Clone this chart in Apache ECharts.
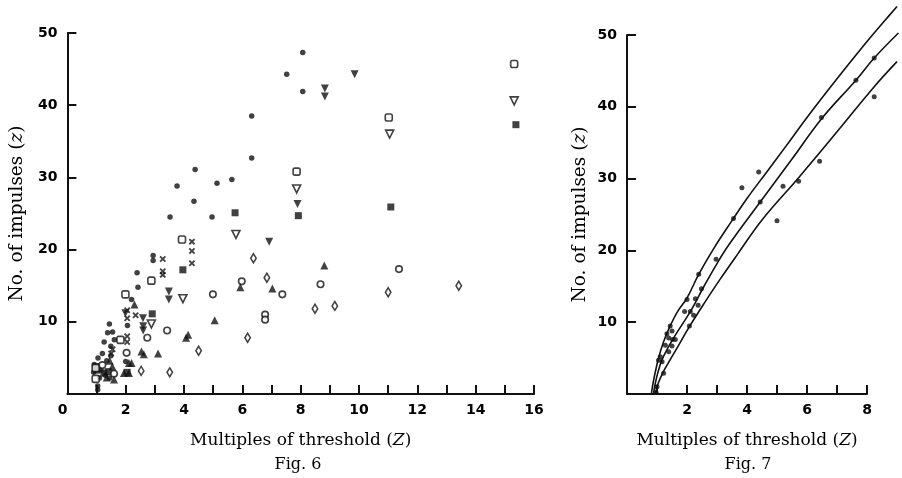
<!DOCTYPE html>
<html><head><meta charset="utf-8">
<script src="https://cdn.jsdelivr.net/npm/echarts@6/dist/echarts.min.js"></script>
<style>html,body{margin:0;padding:0;background:#fff}#c{width:902px;height:478px}</style>
</head><body><div id="c"></div>
<script>
// ---- Fig. 6 data (x = multiples of threshold, y = number of impulses) ----
const filledCircle = [[8.07,47.3],[7.52,44.3],[8.07,41.9],[6.32,38.5],[6.32,32.7],[4.38,31.1],[3.76,28.8],[5.13,29.2],[5.64,29.7],[4.34,26.7],[3.52,24.5],[4.96,24.5],[2.94,19.2],[2.94,18.5],[2.39,16.8],[2.42,14.8],[2.2,13.1],[1.44,9.7],[2.06,9.5],[1.38,8.5],[1.55,8.6],[1.61,7.5],[1.26,7.2],[1.49,6.6],[1.49,5.3],[1.2,5.6],[1.05,5.0],[1.35,4.6],[2.0,4.5],[0.92,4.1],[1.15,3.3],[0.9,3.0],[1.3,2.6],[1.1,2.2],[1.45,2.2],[1.04,1.1],[1.04,0.6]];
const filledSquare = [[15.38,37.3],[11.09,25.9],[7.92,24.7],[5.75,25.1],[3.96,17.2],[2.91,11.1],[0.98,3.8],[1.25,2.9],[1.4,3.1],[2.05,3.0],[1.0,3.3]];
const openSquare = [[15.32,45.7],[11.02,38.3],[7.86,30.8],[3.93,21.4],[2.88,15.7],[1.99,13.8],[1.82,7.5],[0.97,3.6],[0.97,2.1]];
const openDownTri = [[15.32,40.6],[11.05,36.0],[7.86,28.4],[5.78,22.1],[3.96,13.2],[2.88,9.7]];
const filledDownTri = [[9.85,44.3],[8.83,42.3],[8.83,41.2],[7.89,26.3],[6.92,21.1],[3.48,14.2],[3.48,13.1],[2.59,10.5],[2.6,9.4],[2.6,8.8],[1.99,11.2]];
const crosses = [[4.27,21.1],[4.27,19.8],[4.27,18.1],[3.27,18.7],[3.27,17.0],[3.27,16.5],[2.34,10.9],[2.05,11.6],[2.05,10.5],[2.05,8.0],[2.05,7.2],[1.55,6.2],[1.5,5.6]];
const openCircle = [[11.37,17.3],[8.68,15.2],[5.98,15.6],[7.37,13.8],[4.99,13.8],[6.78,11.0],[6.78,10.3],[3.42,8.8],[2.74,7.8],[2.03,5.7],[1.6,2.8],[1.2,4.0]];
const openDiamond = [[13.42,15.0],[11.0,14.1],[9.17,12.2],[8.49,11.8],[6.38,18.8],[6.84,16.1],[6.18,7.8],[4.5,6.0],[3.51,3.0],[2.53,3.2]];
const filledUpTri = [[8.81,17.8],[5.93,14.8],[7.03,14.6],[5.05,10.2],[4.14,8.2],[4.07,7.8],[3.11,5.6],[2.54,5.9],[2.62,5.5],[2.11,4.3],[2.2,4.3],[1.94,2.9],[2.11,2.9],[1.54,3.8],[1.6,2.0],[2.3,12.4],[1.45,4.6],[1.35,2.3]];

// ---- Fig. 7 data ----
const fig7Points = [[3.83,28.8],[4.39,31.0],[3.55,24.5],[4.44,26.8],[5.2,29.0],[5.72,29.7],[5.0,24.2],[6.42,32.5],[6.48,38.6],[7.63,43.8],[8.24,46.9],[8.24,41.5],[2.97,18.8],[2.39,16.7],[2.48,14.7],[2.0,13.2],[2.28,13.3],[1.92,11.5],[2.11,11.5],[2.22,11.0],[2.37,12.4],[2.08,9.5],[1.44,9.5],[1.5,8.8],[1.33,8.4],[1.39,7.8],[1.52,7.6],[1.61,7.6],[1.28,6.8],[1.5,6.7],[1.39,5.9],[1.11,5.2],[1.05,4.7],[1.17,4.5],[1.22,2.9],[1.0,1.0],[0.97,0.2]];
const curveUpper = [[0.81,0],[0.9,2.2],[1.05,5.0],[1.22,7.3],[1.44,9.5],[1.7,11.6],[2.0,13.4],[2.39,16.7],[2.89,20.3],[3.5,24.2],[4.0,27.3],[4.66,31.0],[5.3,34.6],[6.0,38.6],[7.0,44.0],[8.0,49.2],[8.61,52.2],[9.0,54.1]];
const curveMiddle = [[0.88,0],[0.97,2.0],[1.1,4.0],[1.22,5.3],[1.55,7.8],[2.11,11.5],[2.55,14.9],[2.97,18.0],[3.39,20.8],[4.44,26.8],[5.5,32.8],[6.48,38.4],[7.63,43.8],[8.24,46.9],[9.05,50.4]];
const curveLower = [[0.94,0],[1.05,1.6],[1.2,3.0],[1.33,4.0],[1.72,6.8],[2.08,9.4],[2.61,12.9],[3.1,16.0],[3.7,19.6],[4.5,24.3],[5.72,30.2],[7.0,36.6],[8.24,42.9],[9.0,46.4]];

const yTicks = [10,20,30,40,50];
const fig6XLabels = [0,2,4,6,8,10,12,14,16];
const fig7XLabels = [2,4,6,8];

const INK = '#111';
const labelFont = {color:'#000', fontFamily:'DejaVu Sans', fontWeight:'bold', fontSize:14};
function nameFont(sz){ return {color:'#000', fontFamily:'DejaVu Serif', fontSize:sz,
  rich:{i:{fontFamily:'DejaVu Serif', fontStyle:'italic', fontSize:sz, color:'#000'}}}; }
const axLine = {show:true, lineStyle:{color:INK, width:2}};
const axTick = {show:true, inside:true, length:9, lineStyle:{color:INK, width:2}};

function xAxisCfg(gi, max, labels, alignMin){
  return {type:'value', gridIndex:gi, min:0, max:max, interval:1,
    axisLine:axLine, axisTick:axTick, splitLine:{show:false},
    axisLabel:Object.assign({margin:9, formatter:v=>labels.includes(v)?String(v):'', showMinLabel:true, showMaxLabel:true, alignMinLabel: alignMin}, labelFont),
    name:'Multiples of threshold ({i|Z})', nameLocation:'middle', nameGap:38, nameTextStyle:nameFont(17)};
}
function yAxisCfg(gi, gap){
  return {type:'value', gridIndex:gi, min:0, max:50, interval:10,
    axisLine:axLine, axisTick:axTick, splitLine:{show:false},
    axisLabel:Object.assign({margin:10, formatter:v=>yTicks.includes(v)?String(v):''}, labelFont),
    name:'No. of impulses ({i|z})', nameLocation:'middle', nameGap:gap, nameTextStyle:nameFont(18.5)};
}
// hidden axes with the same scale as Fig. 7 axes, but a wider range so curves can run past the frame
const hiddenAxis = {show:false, type:'value', splitLine:{show:false}};

function scat(data, symbol, size, filled, rotate){
  return {type:'scatter', xAxisIndex:0, yAxisIndex:0, data:data, symbol:symbol, symbolSize:size,
    symbolRotate:rotate||0, silent:true,
    itemStyle: filled ? {color:INK} : {color:'#fff', borderColor:INK, borderWidth:1.6}};
}
const crossPath = 'path://M0,2L2,0L5,3L8,0L10,2L7,5L10,8L8,10L5,7L2,10L0,8L3,5Z';

const option = {
  animation:false,
  backgroundColor:'#fff',
  grid:[
    {left:65, right:368, top:33, bottom:84},
    {left:627, right:35, top:35, bottom:84},
    // 9 x-units at 30 px, 55 y-units at 7.18 px
    {left:627, right:5, top:-0.9, bottom:84}
  ],
  xAxis:[xAxisCfg(0,16,fig6XLabels,'right'), xAxisCfg(1,8,fig7XLabels,'center'),
         Object.assign({gridIndex:2, min:0, max:9}, hiddenAxis)],
  yAxis:[yAxisCfg(0,35), yAxisCfg(1,37),
         Object.assign({gridIndex:2, min:0, max:55}, hiddenAxis)],
  series:[
    scat(filledCircle,'circle',5.5,true),
    scat(filledSquare,'rect',7,true),
    scat(openSquare,'roundRect',7,false),
    scat(openDownTri,'triangle',8,false,180),
    scat(filledDownTri,'triangle',8,true,180),
    scat(crosses,crossPath,6.5,true),
    scat(openCircle,'circle',6.5,false),
    scat(openDiamond,'diamond',[5.5,9],false),
    scat(filledUpTri,'triangle',8,true),
    {type:'scatter', xAxisIndex:2, yAxisIndex:2, data:fig7Points, symbol:'circle', symbolSize:5, itemStyle:{color:INK}, silent:true},
    ...[curveUpper, curveMiddle, curveLower].map(c=>({type:'line', xAxisIndex:2, yAxisIndex:2, data:c, smooth:0.4,
      showSymbol:false, symbol:'none', clip:false, silent:true, lineStyle:{color:INK, width:1.6}}))
  ],
  graphic:[
    {type:'text', x:298, y:465, style:{text:'Fig. 6', align:'center', verticalAlign:'middle', font:'16px "DejaVu Serif"', fill:'#000'}},
    {type:'text', x:748, y:465, style:{text:'Fig. 7', align:'center', verticalAlign:'middle', font:'16px "DejaVu Serif"', fill:'#000'}}
  ]
};
const chart = echarts.init(document.getElementById('c'), null, {renderer:'canvas'});
chart.setOption(option);
</script></body></html>
